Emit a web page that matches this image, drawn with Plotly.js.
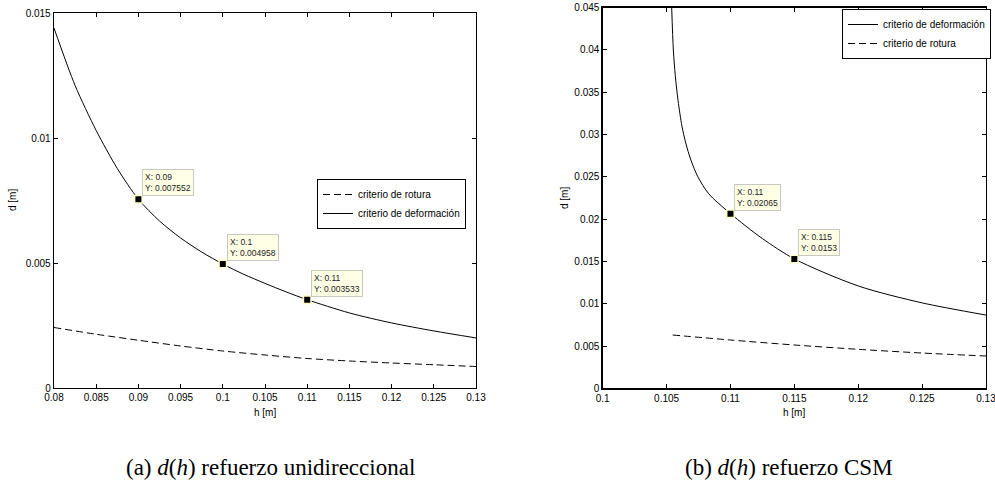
<!DOCTYPE html>
<html>
<head>
<meta charset="utf-8">
<script src="https://cdn.plot.ly/plotly-3.0.1.min.js"></script>
<style>html,body{margin:0;padding:0;background:#fff;}#chart{width:995px;height:490px;}</style>
</head>
<body>
<div id="chart"></div>
<script>
// ---- (a) refuerzo unidireccional ----
const hDefA = [0.08, 0.0825, 0.085, 0.0875, 0.09, 0.0925, 0.095, 0.0975, 0.1, 0.1025, 0.105, 0.1075, 0.11, 0.115, 0.12, 0.125, 0.13];
const dDefA = [0.0144, 0.0121, 0.0103, 0.00878, 0.007552, 0.00668, 0.00600, 0.00544, 0.004958, 0.004545, 0.004185, 0.003845, 0.003533, 0.003003, 0.002603, 0.002283, 0.002003];
const hRotA = [0.08, 0.085, 0.09, 0.095, 0.1, 0.105, 0.11, 0.115, 0.12, 0.125, 0.13];
const dRotA = [0.00242, 0.00215, 0.00191, 0.00168, 0.00148, 0.00132, 0.00118, 0.00108, 0.00100, 0.00093, 0.00086];
const tipHA = [0.09, 0.1, 0.11];
const tipDA = [0.007552, 0.004958, 0.003533];
const xTickValsA = [0.08, 0.085, 0.09, 0.095, 0.1, 0.105, 0.11, 0.115, 0.12, 0.125, 0.13];
const xTickTextA = ["0.08", "0.085", "0.09", "0.095", "0.1", "0.105", "0.11", "0.115", "0.12", "0.125", "0.13"];
const yTickValsA = [0, 0.005, 0.01, 0.015];
const yTickTextA = ["0", "0.005", "0.01", "0.015"];

// ---- (b) refuerzo CSM ----
const hDefB = [0.1054, 0.10553, 0.10568, 0.1059, 0.1062, 0.1065, 0.1069, 0.10745, 0.1083, 0.11, 0.1125, 0.115, 0.12, 0.125, 0.13];
const dDefB = [0.0450, 0.0400, 0.0370, 0.0340, 0.0310, 0.0290, 0.0270, 0.0250, 0.0230, 0.02065, 0.0177, 0.0153, 0.0121, 0.0101, 0.00866];
const hRotB = [0.10548, 0.11, 0.115, 0.12, 0.125, 0.13];
const dRotB = [0.0063, 0.00571, 0.00512, 0.00461, 0.00417, 0.00382];
const tipHB = [0.11, 0.115];
const tipDB = [0.02065, 0.0153];
const xTickValsB = [0.1, 0.105, 0.11, 0.115, 0.12, 0.125, 0.13];
const xTickTextB = ["0.1", "0.105", "0.11", "0.115", "0.12", "0.125", "0.13"];
const yTickValsB = [0, 0.005, 0.01, 0.015, 0.02, 0.025, 0.03, 0.035, 0.04, 0.045];
const yTickTextB = ["0", "0.005", "0.01", "0.015", "0.02", "0.025", "0.03", "0.035", "0.04", "0.045"];

const nameRot = "criterio de rotura";
const nameDef = "criterio de deformación";
const captionA = "(a) <i>d</i>(<i>h</i>) refuerzo unidireccional";
const captionB = "(b) <i>d</i>(<i>h</i>) refuerzo CSM";

const SANS = "Arial, Liberation Sans, sans-serif";
const SERIF = "Liberation Serif, Times New Roman, serif";
const dashStyle = "7px,4px";

const traces = [
  {x: hRotA, y: dRotA, xaxis: 'x', yaxis: 'y', mode: 'lines', name: nameRot, legend: 'legend',
   line: {color: '#000', width: 1, dash: dashStyle, shape: 'spline', smoothing: 0.8}},
  {x: hDefA, y: dDefA, xaxis: 'x', yaxis: 'y', mode: 'lines', name: nameDef, legend: 'legend',
   line: {color: '#000', width: 1, shape: 'spline', smoothing: 0.8}},
  {x: tipHA, y: tipDA, xaxis: 'x', yaxis: 'y', mode: 'markers', showlegend: false,
   marker: {symbol: 'square', size: 7.5, color: '#000', line: {color: '#ffffc8', width: 1.5}}},
  {x: hDefB, y: dDefB, xaxis: 'x2', yaxis: 'y2', mode: 'lines', name: nameDef, legend: 'legend2',
   line: {color: '#000', width: 1, shape: 'spline', smoothing: 0.8}},
  {x: hRotB, y: dRotB, xaxis: 'x2', yaxis: 'y2', mode: 'lines', name: nameRot, legend: 'legend2',
   line: {color: '#000', width: 1, dash: dashStyle, shape: 'spline', smoothing: 0.8}},
  {x: tipHB, y: tipDB, xaxis: 'x2', yaxis: 'y2', mode: 'markers', showlegend: false,
   marker: {symbol: 'square', size: 7.5, color: '#000', line: {color: '#ffffc8', width: 1.5}}}
];

function axisBase(extra) {
  return Object.assign({
    showline: true, linecolor: '#000', linewidth: 1.3, mirror: 'ticks',
    ticks: 'inside', ticklen: 4, tickwidth: 1, tickcolor: '#000',
    showgrid: false, zeroline: false, tickmode: 'array', ticklabeloverflow: 'allow',
    tickfont: {family: SANS, size: 10, color: '#000'}, fixedrange: true
  }, extra);
}

const W = 995, H = 490;
const layout = {
  width: W, height: H,
  margin: {l: 0, r: 0, t: 0, b: 0},
  paper_bgcolor: '#fff', plot_bgcolor: '#fff',
  font: {family: SANS, size: 10, color: '#000'},
  xaxis: axisBase({domain: [54 / W, 476 / W], range: [0.08, 0.13], tickvals: xTickValsA, ticktext: xTickTextA, anchor: 'y'}),
  yaxis: axisBase({domain: [(H - 388) / H, (H - 13) / H], range: [0, 0.015], tickvals: yTickValsA, ticktext: yTickTextA, anchor: 'x'}),
  xaxis2: axisBase({domain: [602.7 / W, 986 / W], range: [0.1, 0.13], tickvals: xTickValsB, ticktext: xTickTextB, anchor: 'y2'}),
  yaxis2: axisBase({domain: [(H - 388.3) / H, (H - 7.7) / H], range: [0, 0.045], tickvals: yTickValsB, ticktext: yTickTextB, anchor: 'x2'}),
  legend: {x: 317 / W, y: 1 - 179 / H, xanchor: 'left', yanchor: 'top', bgcolor: '#fff',
           bordercolor: '#000', borderwidth: 1, font: {family: SANS, size: 10, color: '#000'}, traceorder: 'normal'},
  legend2: {x: 842 / W, y: 1 - 9 / H, xanchor: 'left', yanchor: 'top', bgcolor: '#fff',
            bordercolor: '#000', borderwidth: 1, font: {family: SANS, size: 10, color: '#000'}, traceorder: 'normal'},
  showlegend: true,
  annotations: []
};

function addTips(hs, ds, xr, yr) {
  hs.forEach((h, i) => {
    layout.annotations.push({
      x: h, y: ds[i], xref: xr, yref: yr, xanchor: 'left', yanchor: 'bottom',
      xshift: 4, yshift: 3, showarrow: false, align: 'left',
      text: 'X: ' + h + '<br>Y: ' + ds[i],
      bgcolor: '#ffffe6', bordercolor: '#c8c8c0', borderwidth: 1, borderpad: 2,
      font: {family: SANS, size: 8.5, color: '#222'}
    });
  });
}
addTips(tipHA, tipDA, 'x', 'y');
addTips(tipHB, tipDB, 'x2', 'y2');

// axis titles and captions
layout.annotations.push(
  {text: 'h [m]', xref: 'paper', yref: 'paper', x: 265 / W, y: 1 - 412 / H, showarrow: false, xanchor: 'center', yanchor: 'middle', font: {family: SANS, size: 10}},
  {text: 'd [m]', xref: 'paper', yref: 'paper', x: 12 / W, y: 1 - 200 / H, showarrow: false, textangle: -90, xanchor: 'center', yanchor: 'middle', font: {family: SANS, size: 10}},
  {text: 'h [m]', xref: 'paper', yref: 'paper', x: 794 / W, y: 1 - 412 / H, showarrow: false, xanchor: 'center', yanchor: 'middle', font: {family: SANS, size: 10}},
  {text: 'd [m]', xref: 'paper', yref: 'paper', x: 565 / W, y: 1 - 198 / H, showarrow: false, textangle: -90, xanchor: 'center', yanchor: 'middle', font: {family: SANS, size: 10}},
  {text: captionA, xref: 'paper', yref: 'paper', x: 270 / W, y: 1 - 467 / H, showarrow: false, xanchor: 'center', yanchor: 'middle', font: {family: SERIF, size: 23, color: '#000'}},
  {text: captionB, xref: 'paper', yref: 'paper', x: 789 / W, y: 1 - 467 / H, showarrow: false, xanchor: 'center', yanchor: 'middle', font: {family: SERIF, size: 23, color: '#000'}}
);

Plotly.newPlot('chart', traces, layout, {displayModeBar: false, staticPlot: true});
</script>
</body>
</html>
